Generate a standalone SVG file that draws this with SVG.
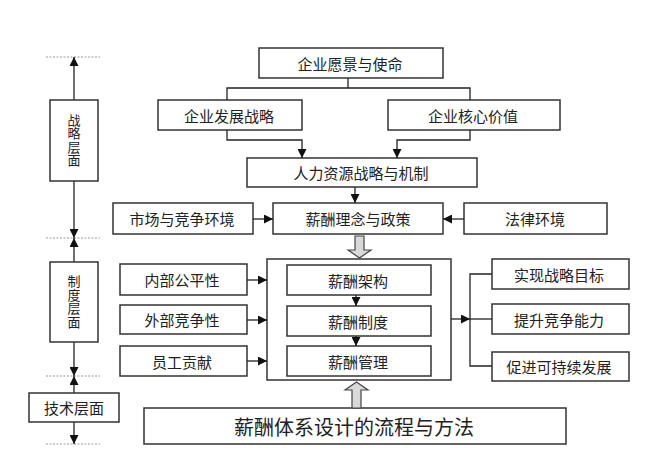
<svg xmlns="http://www.w3.org/2000/svg" width="662" height="464" viewBox="0 0 662 464">
<defs>
<marker id="ah" viewBox="0 0 10 10" refX="10" refY="5" markerWidth="10" markerHeight="9" markerUnits="userSpaceOnUse" orient="auto">
<path d="M0,0 L10,5 L0,10 z" fill="#111"/>
</marker>
<style>
.box{fill:#fff;stroke:#333;stroke-width:1.5}
.t{font-family:"Noto Sans CJK SC","Noto Sans CJK JP",sans-serif;font-size:15px;fill:#222;text-anchor:middle;dominant-baseline:central}
.v{font-family:"Noto Sans CJK SC","Noto Sans CJK JP",sans-serif;font-size:13px;fill:#222;text-anchor:middle;writing-mode:vertical-rl;letter-spacing:0.5px}
.big{font-size:20px}
.ln{fill:none;stroke:#222;stroke-width:1.3}
.ar{fill:none;stroke:#222;stroke-width:1.3;marker-end:url(#ah)}
.dash{stroke:#999;stroke-width:1;stroke-dasharray:2 1.5}
.hol{fill:#d9d9d9;stroke:#444;stroke-width:1.2}
</style>
</defs>
<rect width="662" height="464" fill="#fff"/>

<g id="levels-axis">
<line class="dash" x1="46" y1="57" x2="100" y2="57"/>
<line class="dash" x1="46" y1="238" x2="100" y2="238"/>
<line class="dash" x1="46" y1="376" x2="100" y2="376"/>
<line class="dash" x1="46" y1="444" x2="100" y2="444"/>
<line class="ar" x1="74" y1="100" x2="74" y2="57"/>
<line class="ar" x1="74" y1="181" x2="74" y2="238"/>
<line class="ar" x1="74" y1="262" x2="74" y2="238"/>
<line class="ar" x1="74" y1="342" x2="74" y2="376"/>
<line class="ar" x1="74" y1="393" x2="74" y2="376"/>
<line class="ar" x1="74" y1="422" x2="74" y2="444"/>
</g>

<g id="n-strategy-level">
<rect class="box" x="50" y="100" width="48" height="81"/>
<text class="v" x="74" y="140.5">战略层面</text>
</g>
<g id="n-system-level">
<rect class="box" x="50" y="262" width="48" height="80"/>
<text class="v" x="74" y="302">制度层面</text>
</g>
<g id="n-tech-level">
<rect class="box" x="29" y="393" width="90" height="29"/>
<text class="t" x="74" y="407.5">技术层面</text>
</g>

<g id="n-vision">
<rect class="box" x="259" y="48" width="184" height="30"/>
<text class="t" x="350" y="63">企业愿景与使命</text>
</g>
<g id="n-dev-strategy">
<rect class="box" x="158" y="100" width="144" height="30"/>
<text class="t" x="229" y="115">企业发展战略</text>
</g>
<g id="n-core-value">
<rect class="box" x="388" y="100" width="172" height="30"/>
<text class="t" x="473" y="115">企业核心价值</text>
</g>
<g id="n-hr">
<rect class="box" x="247" y="158" width="230" height="29"/>
<text class="t" x="361" y="172.5">人力资源战略与机制</text>
</g>
<g id="n-market">
<rect class="box" x="113" y="203" width="140" height="31"/>
<text class="t" x="182" y="218.5">市场与竞争环境</text>
</g>
<g id="n-policy">
<rect class="box" x="273" y="203" width="170" height="31"/>
<text class="t" x="358" y="218.5">薪酬理念与政策</text>
</g>
<g id="n-law">
<rect class="box" x="464" y="203" width="143" height="31"/>
<text class="t" x="535" y="218.5">法律环境</text>
</g>

<g id="n-internal">
<rect class="box" x="120" y="264" width="127" height="31"/>
<text class="t" x="182" y="279.5">内部公平性</text>
</g>
<g id="n-external">
<rect class="box" x="120" y="305" width="127" height="29"/>
<text class="t" x="182" y="319.5">外部竞争性</text>
</g>
<g id="n-contrib">
<rect class="box" x="120" y="346" width="127" height="30"/>
<text class="t" x="182" y="361">员工贡献</text>
</g>

<g id="n-container">
<rect class="box" x="267" y="259" width="184" height="121"/>
</g>
<g id="n-structure">
<rect class="box" x="287" y="265" width="144" height="30"/>
<text class="t" x="358" y="280">薪酬架构</text>
</g>
<g id="n-system">
<rect class="box" x="287" y="306" width="144" height="30"/>
<text class="t" x="358" y="321">薪酬制度</text>
</g>
<g id="n-mgmt">
<rect class="box" x="287" y="346" width="144" height="30"/>
<text class="t" x="358" y="361">薪酬管理</text>
</g>

<g id="n-goal">
<rect class="box" x="492" y="259" width="137" height="30"/>
<text class="t" x="559" y="274">实现战略目标</text>
</g>
<g id="n-compete">
<rect class="box" x="492" y="304" width="137" height="30"/>
<text class="t" x="559" y="319">提升竞争能力</text>
</g>
<g id="n-sustain">
<rect class="box" x="492" y="352" width="137" height="29"/>
<text class="t" x="559" y="366.5">促进可持续发展</text>
</g>

<g id="n-method">
<rect class="box" x="144" y="408" width="422" height="36"/>
<text class="t big" x="354" y="426">薪酬体系设计的流程与方法</text>
</g>

<g id="connectors">
<path class="ln" d="M348,78 V88"/>
<path class="ln" d="M227,100 V88 H470 V100"/>
<path class="ar" d="M227,130 V140 H302 V158"/>
<path class="ar" d="M470,130 V140 H397 V158"/>
<path class="ar" d="M355,187 V203"/>
<path class="ar" d="M253,219 H273"/>
<path class="ar" d="M464,219 H443"/>
<polygon class="hol" points="355,236 364,236 364,250 371,250 359.5,258 348,250 355,250"/>
<path class="ar" d="M247,280 H267"/>
<path class="ar" d="M247,320 H267"/>
<path class="ar" d="M247,361 H267"/>
<path class="ar" d="M356,295 V306"/>
<path class="ar" d="M356,336 V346"/>
<path class="ar" d="M451,319 H470"/>
<path class="ln" d="M492,274 H470 V366 H492"/>
<path class="ln" d="M470,319 H492"/>
<polygon class="hol" points="352,408 361,408 361,390 368,390 356.5,382 345,390 352,390"/>
</g>
</svg>
